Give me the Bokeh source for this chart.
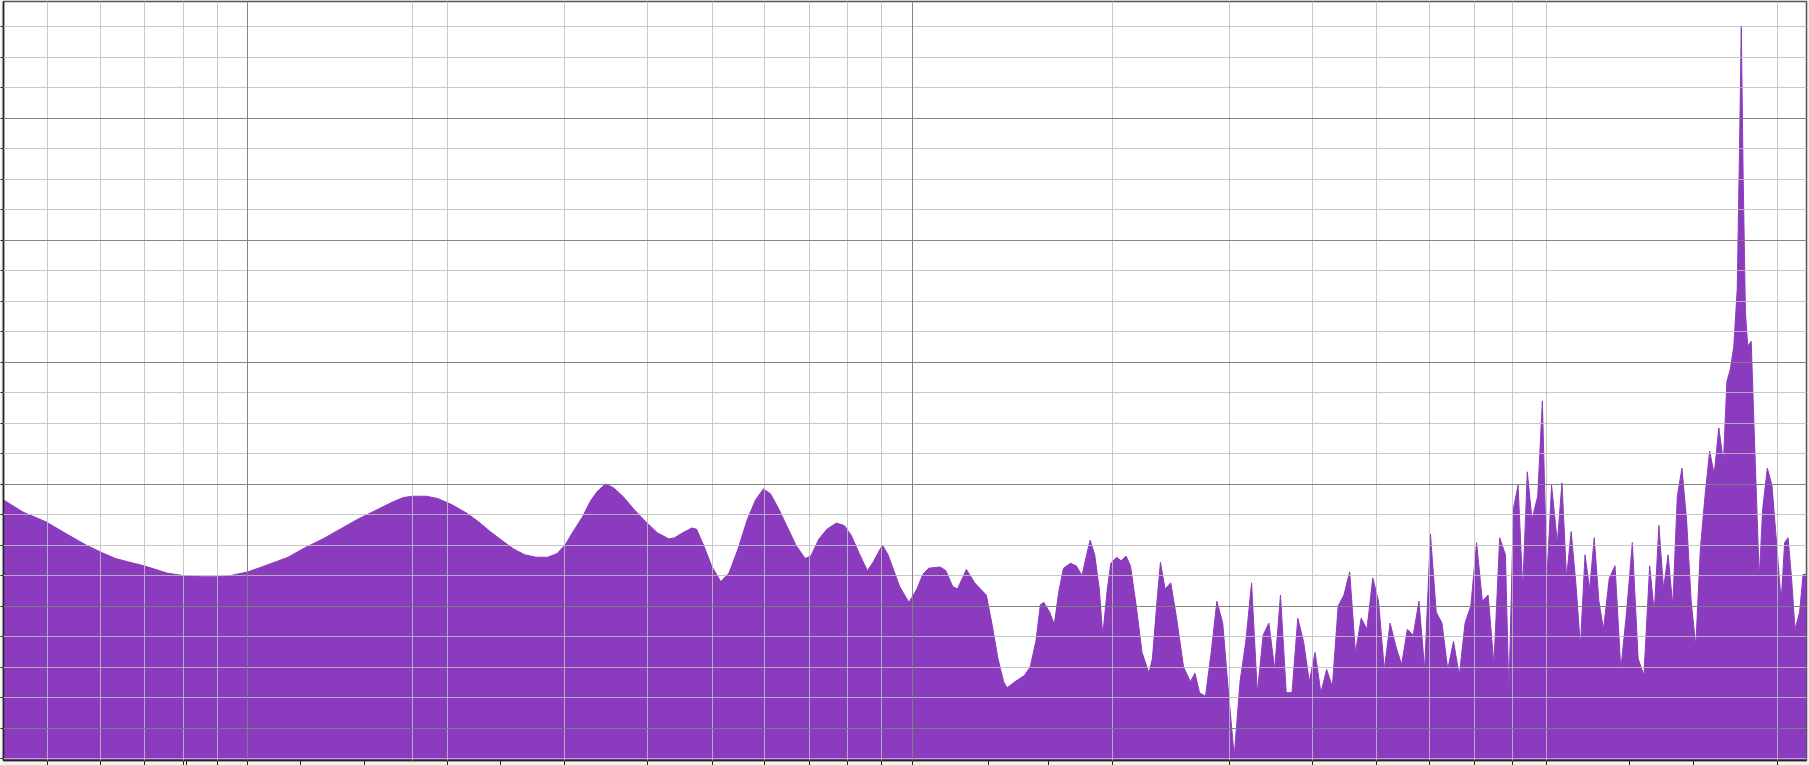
from bokeh.plotting import figure
from bokeh.models import FixedTicker, Grid, ColumnDataSource
from bokeh.embed import file_html
from bokeh.resources import INLINE

# ---- data: spectrum (frequency in Hz, level in dB) ----
freq_hz = [42.9, 45.9, 49.7, 53.8, 57.1, 60.2, 63.2, 66.3, 69.8, 75.6, 79.9, 85.2, 89.8, 94.2, 100,
           106.2, 115.0, 122.1, 129.7, 137.7, 146.2, 155.2, 164.8, 171.5, 177.1, 185.8, 193.4, 202.9,
           213.7, 222.5, 231.6, 241.0, 250.8, 261.0, 271.6, 282.7, 292.0, 300.2, 308.7, 318.8, 327.8,
           335.7, 345.4, 355.0, 366.7, 381.5, 397.2, 413.4, 430.2, 438.8, 451.2, 465.9, 473.4, 485.0,
           498.7, 514.9, 529.7, 546.8, 564.5, 580.8, 597.0, 611.6, 628.9, 646.8, 667.9, 689.5, 703.5,
           723.5, 743.9, 768.2, 789.9, 809.1, 832.0, 855.7, 873.0, 901.3, 919.3, 938.0, 956.9, 988.0,
           1016, 1037, 1058, 1101, 1123, 1150, 1169, 1206, 1241, 1266, 1292, 1318, 1345, 1372, 1388,
           1427, 1474, 1504, 1534, 1558, 1577, 1609, 1635, 1661, 1688, 1729, 1764, 1800, 1829, 1851,
           1881, 1911, 1934, 1965, 1989, 2029, 2062, 2096, 2129, 2172, 2216, 2270, 2297, 2334, 2362,
           2400, 2448, 2498, 2559, 2620, 2662, 2705, 2761, 2816, 2872, 2931, 2990, 3050, 3112, 3175,
           3239, 3304, 3371, 3439, 3509, 3580, 3652, 3726, 3801, 3878, 3956, 4036, 4118, 4201, 4285,
           4372, 4460, 4550, 4642, 4735, 4831, 4929, 5028, 5130, 5234, 5339, 5447, 5557, 5670, 5784,
           5900, 6019, 6141, 6265, 6391, 6520, 6652, 6786, 6923, 7063, 7205, 7351, 7499, 7651, 7805,
           7899, 8026, 8155, 8287, 8420, 8556, 8729, 8870, 9013, 9158, 9343, 9493, 9646, 9801, 9960,
           10120, 10283, 10450, 10616, 10789, 10963, 11185, 11411, 11641, 11876, 12115, 12360, 12610,
           12865, 13072, 13283, 13497, 13714, 13935, 14159, 14387, 14618, 14854, 15093, 15336, 15583,
           15834, 16088, 16347, 16610, 16810, 17013, 17218, 17425, 17566, 17671, 17783, 17925, 18069,
           18289, 18509, 18806, 19033, 19340, 19652, 19966, 20290, 20534, 20781, 21031, 21285, 21628,
           21889, 22150]
level_db = [-41.3, -42.3, -43.1, -44.2, -45.0, -45.6, -46.1, -46.4, -46.7, -47.3, -47.5, -47.6, -47.6, -47.5, -47.2,
            -46.7, -46.0, -45.2, -44.5, -43.7, -42.9, -42.2, -41.5, -41.1, -41.0, -41.0, -41.2, -41.7,
            -42.4, -43.1, -43.9, -44.6, -45.3, -45.8, -46.0, -46.0, -45.7, -45.0, -43.9, -42.7, -41.4,
            -40.6, -40.0, -40.3, -41.0, -42.1, -43.1, -44.0, -44.5, -44.4, -44.0, -43.6, -43.7, -45.0,
            -46.7, -48.0, -47.3, -45.3, -42.9, -41.3, -40.4, -40.8, -42.0, -43.4, -45.0, -46.1, -45.9,
            -44.5, -43.7, -43.2, -43.4, -44.2, -45.7, -47.1, -46.4, -45.0, -45.8, -47.1, -48.4, -49.7,
            -48.6, -47.4, -46.9, -46.8, -47.1, -48.4, -48.6, -47.0, -48.1, -48.6, -49.1, -51.5, -54.3, -56.2, -56.7,
            -56.2, -55.7, -55.0, -52.9, -49.9, -49.7, -50.5, -51.5, -48.8, -46.9, -46.5, -46.7, -47.5, -45.8, -44.6,
            -45.8, -48.6, -52.4, -48.6, -46.5, -46.0, -46.3, -45.9, -46.7, -50.0, -53.8, -55.5, -54.3, -49.6, -46.4,
            -48.6, -48.1, -51.0, -55.0, -56.2, -55.5, -57.1, -57.4, -53.8, -49.6, -51.4, -57.1, -62.3, -56.2, -52.9,
            -48.1, -57.1, -52.4, -51.4, -55.2, -49.1, -57.1, -57.1, -51.0, -52.9, -56.2, -53.8, -57.1, -55.2, -56.6,
            -50.0, -49.1, -47.2, -53.8, -51.0, -51.9, -47.7, -49.6, -55.2, -51.4, -53.3, -54.8, -51.9, -52.4, -49.6,
            -55.2, -44.1, -50.5, -51.4, -55.2, -52.9, -55.7, -51.4, -50.0, -44.8, -49.6, -49.1, -54.8, -44.4, -45.8,
            -57.1, -42.0, -40.1, -48.6, -39.0, -42.9, -41.0, -33.2, -47.7, -40.1, -44.8, -39.9, -47.7, -43.9, -48.1,
            -53.3, -45.8, -48.6, -44.4, -49.6, -51.9, -47.7, -46.7, -55.2, -50.5, -44.8, -54.3, -55.7,
            -46.7, -50.5, -43.4, -48.6, -45.8, -50.0, -41.0, -38.7, -42.9, -49.6, -53.3, -45.3, -41.0,
            -37.3, -39.2, -35.4, -38.2, -31.6, -30.6, -28.7, -24.0, -12.2, -2.45, -14.6, -25.9, -28.7,
            -28.3, -36.8, -47.7, -42.0, -38.7, -40.1, -44.8, -49.6, -44.8, -44.4, -47.7, -51.9, -50.5,
            -47.4, -47.4]

# ---- axis / grid definitions ----
x_ticks_hz = [50, 60, 70, 80, 81, 90, 100, 120, 150, 200, 240, 300, 400, 500, 600, 700, 800, 900,
              1000, 1300, 1600, 2000, 3000, 4000, 5000, 6000, 7000, 8000, 9000, 12000, 15000, 20000]
x_grid_minor_hz = [50, 60, 70, 80, 90, 177, 200, 300, 400, 500, 600, 700, 800, 900,
                   2000, 3000, 4000, 5000, 6000, 7000, 8000, 9000, 20000]
x_grid_major_hz = [100, 1000]
y_ticks_db = [-2.5, -5, -7.5, -10, -12.5, -15, -17.5, -20, -22.5, -25, -27.5, -30, -32.5, -35, -37.5,
              -40, -42.5, -45, -47.5, -50, -52.5, -55, -57.5, -60, -62.5]
y_grid_major_db = [-10, -20, -30, -40, -50, -60]
y_grid_minor_db = [v for v in y_ticks_db if v not in y_grid_major_db]

X_RANGE = (42.9, 22150)
Y_RANGE = (-62.66, -0.45)
FILL = "#8b3bbd"

p = figure(width=1809, height=765, x_axis_type="log", x_range=X_RANGE, y_range=Y_RANGE,
           output_backend="svg", toolbar_location=None,
           min_border_left=3, min_border_right=3, min_border_top=1, min_border_bottom=5)
p.background_fill_color = "white"
p.border_fill_color = "#f2f2f2"
p.outline_line_color = "#555555"
p.outline_line_width = 1.5
p.grid.visible = False

src = ColumnDataSource(dict(f=freq_hz, db=level_db))
p.varea(x="f", y1=Y_RANGE[0] - 10, y2="db", source=src, fill_color=FILL)
p.line(x="f", y="db", source=src, line_color=FILL, line_width=1)

for dim, ticks, color, alpha in [
    (0, x_grid_minor_hz, "#bebebe", 0.85), (1, y_grid_minor_db, "#bebebe", 0.85),
    (0, x_grid_major_hz, "#7e7e7e", 0.95), (1, y_grid_major_db, "#7e7e7e", 0.95)]:
    g = Grid(dimension=dim, ticker=FixedTicker(ticks=ticks), grid_line_color=color,
             grid_line_alpha=alpha, grid_line_width=1, level="guide")
    p.add_layout(g)

for ax, ticks, tout in [(p.xaxis, x_ticks_hz, 5), (p.yaxis, y_ticks_db, 3)]:
    ax.ticker = FixedTicker(ticks=ticks)
    ax.major_label_text_font_size = "0px"
    ax.major_label_text_color = None
    ax.major_label_standoff = 0
    ax.major_tick_out = tout
    ax.major_tick_in = 0
    ax.major_tick_line_color = "#222222"
    ax.major_tick_line_width = 1
    ax.minor_tick_line_color = None
    ax.axis_line_color = "#222222"
    ax.axis_line_width = 1.5

open("out.html", "w").write(file_html(p, INLINE))
